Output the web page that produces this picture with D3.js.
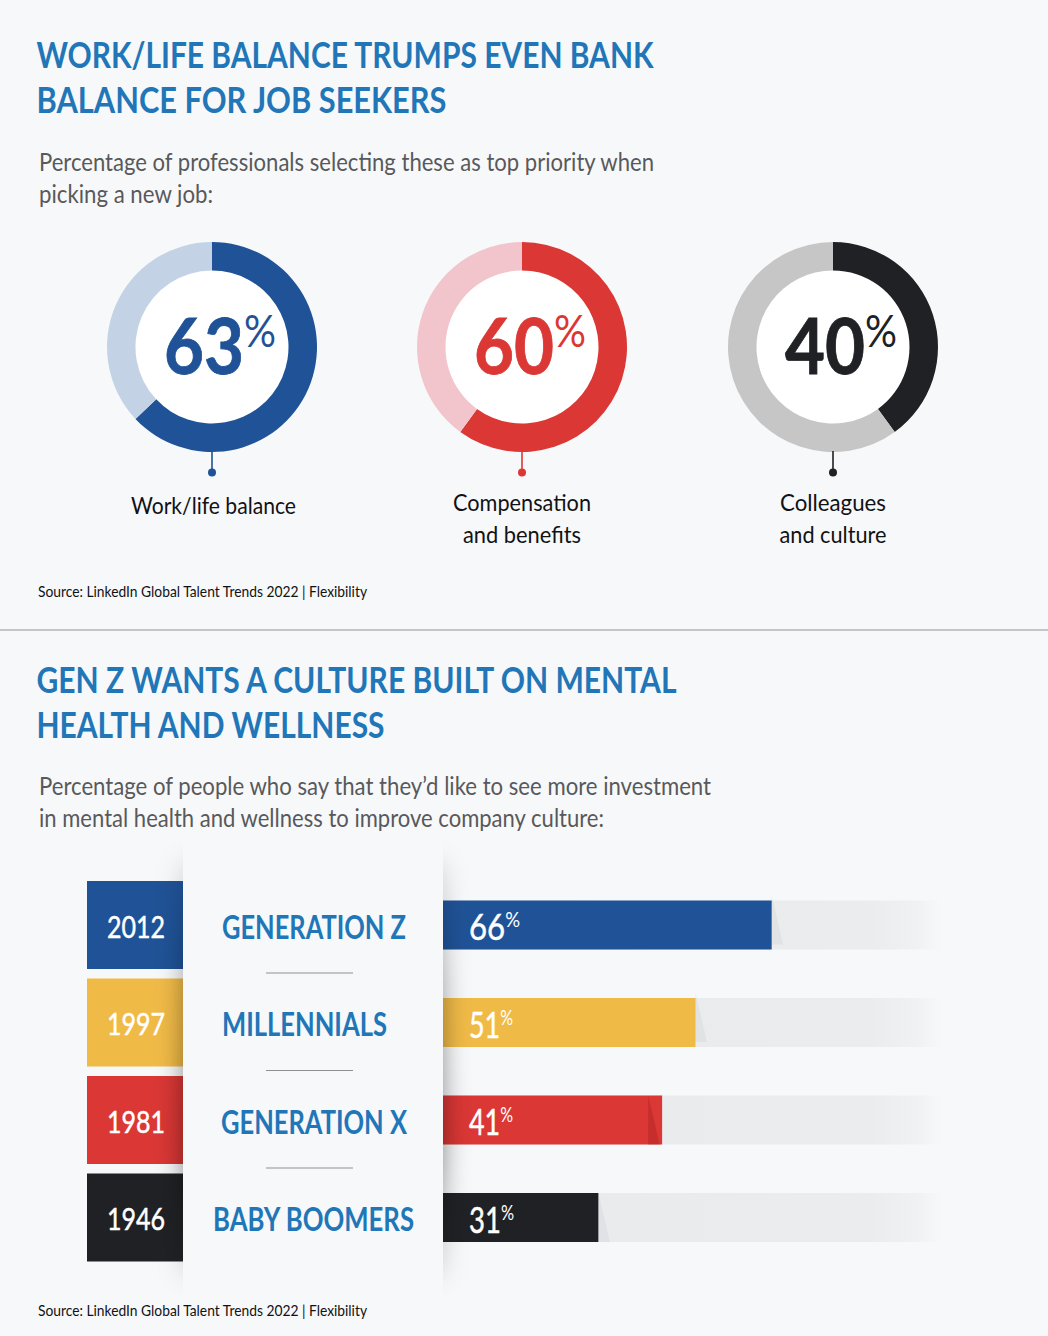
<!DOCTYPE html>
<html><head><meta charset="utf-8">
<style>html,body{margin:0;padding:0;background:#f7f8fa}svg{display:block}</style>
<script src="https://cdn.jsdelivr.net/npm/d3@7"></script>
</head><body><svg id="c" width="1048" height="1336"></svg>
<script>
const donutNames = ["Work/life balance","Compensation and benefits","Colleagues and culture"];
const donutValues = [63,60,40];
const generations = ["GENERATION Z","MILLENNIALS","GENERATION X","BABY BOOMERS"];
const startYears = ["2012","1997","1981","1946"];
const genValues = [66,51,41,31];
const barLengths = [66,50.7,44,31.2];
const foldPositions = [66,50.7,41.2,31.2];

const BG="#f7f8fa",BLUE="#2176b8",GREY="#58595b",INK="#111214";
const svg=d3.select("#c");
const font="Lato, sans-serif";
svg.append("rect").attr("width",1048).attr("height",1336).attr("fill",BG);
const defs=svg.append("defs");
defs.append("filter").attr("id","blur").attr("x","-30%").attr("y","-20%").attr("width","160%").attr("height","140%")
  .append("feGaussianBlur").attr("stdDeviation",13);
const sg=defs.append("linearGradient").attr("id","shade").attr("x1",0).attr("x2",0).attr("y1",0).attr("y2",1);
sg.append("stop").attr("offset",0).attr("stop-color","#000").attr("stop-opacity",0.12);
sg.append("stop").attr("offset",0.3).attr("stop-color","#000").attr("stop-opacity",0.38);
sg.append("stop").attr("offset",0.7).attr("stop-color","#000").attr("stop-opacity",0.48);
sg.append("stop").attr("offset",1).attr("stop-color","#000").attr("stop-opacity",0.1);
const lg=defs.append("linearGradient").attr("id","track").attr("gradientUnits","userSpaceOnUse")
  .attr("x1",443).attr("x2",941).attr("y1",0).attr("y2",0);
lg.append("stop").attr("offset",0).attr("stop-color","#e9eaec");
lg.append("stop").attr("offset",0.86).attr("stop-color","#ebecee");
lg.append("stop").attr("offset",0.95).attr("stop-color","#f0f1f2");
lg.append("stop").attr("offset",1).attr("stop-color",BG);

function t(s,x,y,size,fill,weight,width,anchor){
  const e=svg.append("text").attr("x",x).attr("y",y).attr("font-family",font)
    .attr("font-size",size).attr("fill",fill).attr("font-weight",weight||400).text(s);
  if(width){e.attr("textLength",width).attr("lengthAdjust","spacingAndGlyphs");}
  if(anchor)e.attr("text-anchor",anchor);
  return e;
}
function pct(v,x,y,size,supSize,rise,fill,weight,width,heavy){
  const e=svg.append("text").attr("x",x).attr("y",y).attr("font-family",font)
    .attr("fill",fill).attr("textLength",width).attr("lengthAdjust","spacingAndGlyphs");
  e.append("tspan").attr("font-size",size).attr("font-weight",weight)
    .attr("stroke",fill).attr("stroke-width",heavy).text(v);
  e.append("tspan").attr("font-size",supSize).attr("font-weight",400).attr("dy",-rise).text("%");
  return e;
}
t("WORK/LIFE BALANCE TRUMPS EVEN BANK",36.5,68,37,BLUE,700,617);
t("BALANCE FOR JOB SEEKERS",36.5,113,37,BLUE,700,410);
t("Percentage of professionals selecting these as top priority when",39,170.5,24.5,GREY,400,615);
t("picking a new job:",39,202.5,24.5,GREY,400,174);
const dx=d3.scalePoint().domain(donutNames).range([212,833]);
const dark=["#1f5296","#da3735","#202124"],light=["#c3d3e5","#f2c4cc","#c6c6c6"];
const nameLines=[["Work/life balance"],["Compensation","and benefits"],["Colleagues","and culture"]];
const nameWidths=[[165],[138,118],[106,107]];
const pie=d3.pie().sort(null);
const arc=d3.arc().innerRadius(76.5).outerRadius(105);
donutNames.forEach((n,i)=>{
  const cx=Math.floor(dx(n)),cy=347;
  const g=svg.append("g").attr("transform",`translate(${cx},${cy})`);
  g.append("circle").attr("r",77).attr("fill","#fff");
  g.selectAll("path").data(pie([donutValues[i],100-donutValues[i]])).join("path")
    .attr("d",arc).attr("fill",(d,j)=>j?light[i]:dark[i]);
  g.append("line").attr("y1",104).attr("y2",125).attr("stroke",dark[i]).attr("stroke-width",1.6);
  g.append("circle").attr("cy",125.5).attr("r",4).attr("fill",dark[i]);
  pct(donutValues[i],cx-48,374,76,44,27,dark[i],700,112,0.8);
  const lines=nameLines[i];
  lines.forEach((l,k)=>{
    const y=lines.length===1?514:511+k*32;
    t(l,cx+(i===0?1.5:0),y,24,INK,400,nameWidths[i][k],"middle");
  });
});
t("Source: LinkedIn Global Talent Trends 2022 | Flexibility",38,597,15,INK,400,329);
svg.append("line").attr("x1",0).attr("x2",1048).attr("y1",630).attr("y2",630).attr("stroke","#b5b6b8").attr("stroke-width",1.5);
t("GEN Z WANTS A CULTURE BUILT ON MENTAL",36.5,693,37,BLUE,700,640);
t("HEALTH AND WELLNESS",36.5,738,37,BLUE,700,348);
t("Percentage of people who say that they’d like to see more investment",39,794.5,24.5,GREY,400,672);
t("in mental health and wellness to improve company culture:",39,826.5,24.5,GREY,400,565);
const gy=d3.scalePoint().domain(generations).range([925,1217.5]);
const x=d3.scaleLinear().domain([0,100]).range([443,941]);
const genColors=["#1f5296","#f0ba47","#da3735","#202124"];
const barH=49,boxH=88;
generations.forEach((n,i)=>{
  const c=gy(n);
  svg.append("rect").attr("x",x(0)).attr("width",x(100)-x(0)).attr("y",c-barH/2).attr("height",barH).attr("fill","url(#track)");
  svg.append("rect").attr("x",x(0)).attr("width",x(barLengths[i])-x(0)).attr("y",c-barH/2).attr("height",barH).attr("fill",genColors[i]);
  const f=x(foldPositions[i]);
  const topY=i>=2?c-barH/2:c-barH/2-5, botY=i>=2?c+barH/2:c+barH/2-5;
  svg.append("polygon").attr("points",`${f},${topY} ${f+11.5},${botY} ${f},${botY}`)
    .attr("fill",i===2?"#a02020":"#8a8f99").attr("fill-opacity",i===2?0.35:0.1);
  svg.append("rect").attr("x",87).attr("width",96).attr("y",c-boxH/2).attr("height",boxH).attr("fill",genColors[i]);
});
svg.append("rect").attr("x",183).attr("width",260).attr("y",862).attr("height",415)
  .attr("fill","url(#shade)").attr("filter","url(#blur)");
svg.append("rect").attr("x",183).attr("width",260).attr("y",835).attr("height",470).attr("fill",BG);
const labW=[184,165,186,201],labX=[222,222,221,213];
generations.forEach((n,i)=>{
  const c=gy(n);
  t(startYears[i],107,c+12.5,31,"#fff",400,58).attr("stroke","#fff").attr("stroke-width",0.5);
  t(n,labX[i],c+13.5,32,BLUE,700,labW[i]);
  const totW=[51,44,44,45];
  pct(genValues[i],469,c+15,37,22,13,"#fff",400,totW[i],0.5);
  if(i<3) svg.append("line").attr("x1",266).attr("x2",353).attr("y1",c+48).attr("y2",c+48).attr("stroke","#8f9092").attr("stroke-width",1);
});
t("Source: LinkedIn Global Talent Trends 2022 | Flexibility",38,1316,15,INK,400,329);
</script></body></html>
